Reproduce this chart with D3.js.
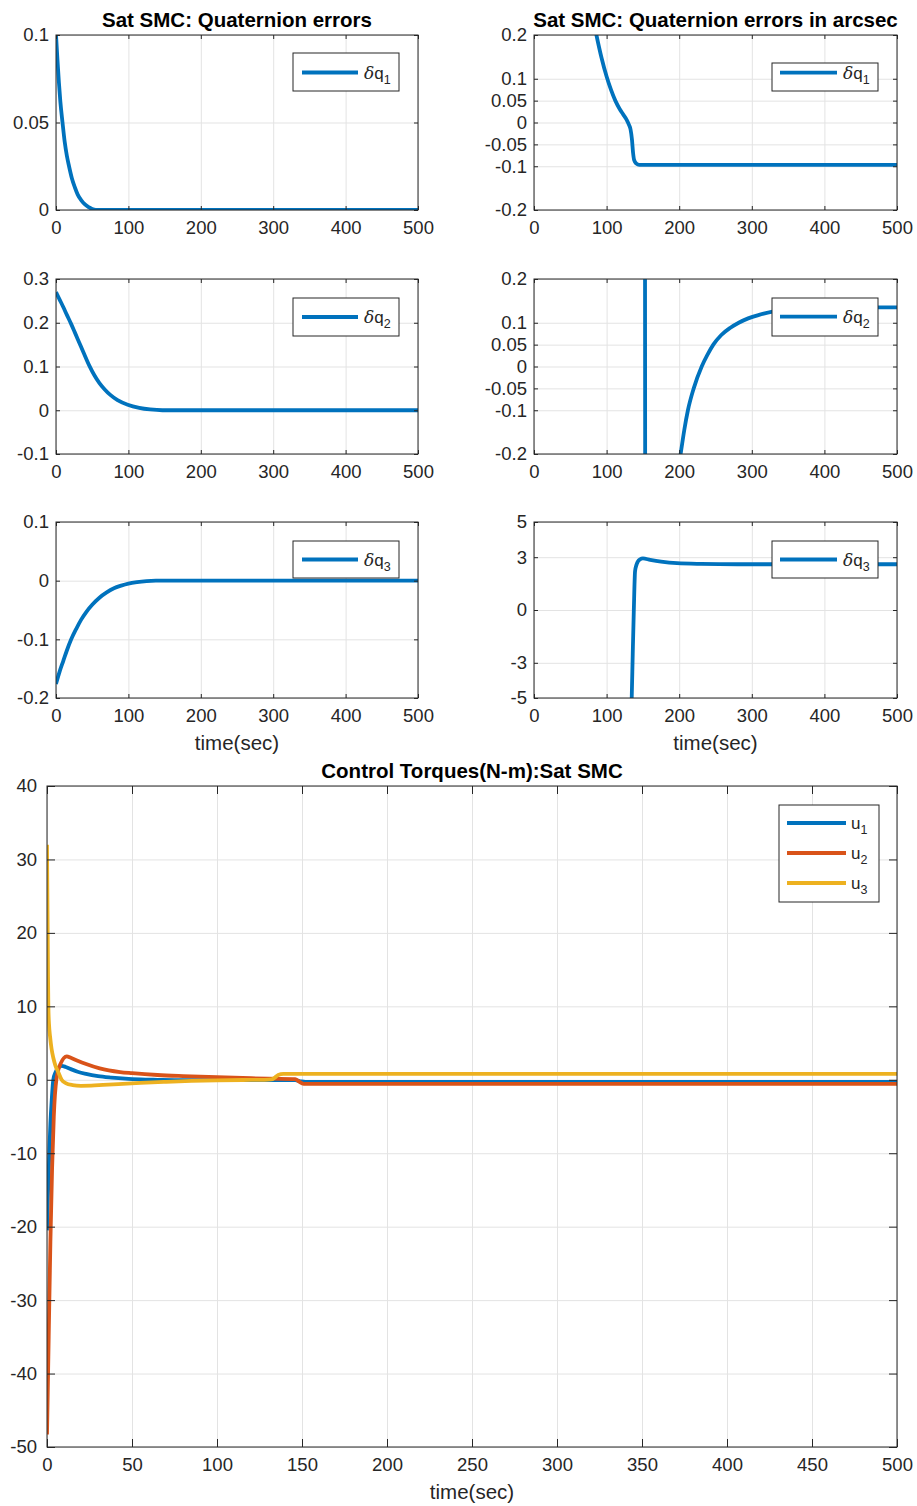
<!DOCTYPE html>
<html>
<head>
<meta charset="utf-8">
<script src="https://cdn.jsdelivr.net/npm/d3@7"></script>
<style>
  body { margin: 0; background: #fff; }
  svg { display: block; font-family: Helvetica, "Liberation Sans", Arial, sans-serif; }
</style>
</head>
<body>
<svg id="chart" width="917" height="1506"></svg>
<script>
// ---- data ----
// quaternion errors (left column)
const q1Time = [0, 2, 4, 6, 9, 12, 15, 18, 22, 26, 30, 35, 40, 45, 50, 55, 500];
const q1Err  = [0.1, 0.086, 0.073, 0.062, 0.05, 0.039, 0.031, 0.025, 0.018, 0.013, 0.0088, 0.0055, 0.0032, 0.0016, 0.0006, 0.0001, 0];

const q2Time = [0, 5, 10, 15, 20.7, 26, 32, 38, 46, 53, 60, 67, 75, 85, 99, 115, 130, 147, 500];
const q2Err  = [0.27, 0.253, 0.236, 0.218, 0.198, 0.178, 0.155, 0.132, 0.102, 0.08, 0.062, 0.048, 0.035, 0.023, 0.0126, 0.0055, 0.0018, 0, 0];

const q3Time = [0, 5, 10, 15, 21, 28, 35, 42, 50, 60, 70, 80, 90, 100, 112, 125, 138, 500];
const q3Err  = [-0.176, -0.155, -0.137, -0.119, -0.1, -0.082, -0.066, -0.053, -0.041, -0.029, -0.02, -0.013, -0.0085, -0.005, -0.0025, -0.0008, 0, 0];

// quaternion errors in arcsec (right column)
const q1ArcTime = [80, 86, 93, 100, 106, 112, 118, 123, 128, 131, 133, 135, 136.5, 138, 141, 145, 150, 500];
const q1Arc     = [0.25, 0.2, 0.148, 0.105, 0.075, 0.05, 0.031, 0.018, 0.005, -0.006, -0.016, -0.04, -0.07, -0.086, -0.094, -0.097, -0.097, -0.097];

const q2ArcTime = [140, 150, 152.8, 153.2, 154, 165, 180, 190, 196, 202, 207, 212, 220, 231, 239, 247, 258, 270, 282, 295, 310, 330, 355, 390, 430, 500];
const q2Arc     = [3, 1.5, 0.5, -0.5, -3, -1.2, -0.55, -0.36, -0.27, -0.2, -0.145, -0.1, -0.05, 0, 0.027, 0.05, 0.072, 0.088, 0.1, 0.11, 0.118, 0.126, 0.131, 0.134, 0.135, 0.135];

const q3ArcTime = [128, 134.6, 136, 137.5, 139.2, 141, 143, 146, 150, 160, 175, 197, 230, 280, 500];
const q3Arc     = [-10, -5, -2.5, 0, 2.2, 2.55, 2.75, 2.88, 2.93, 2.85, 2.75, 2.66, 2.62, 2.6, 2.6];

// control torques
const u1Time = [0, 0.5, 1, 1.5, 2, 2.8, 3.7, 5, 6.5, 8.6, 11, 14, 18, 23, 30, 38, 46, 55, 65, 80, 100, 120, 140, 146, 149, 152, 500];
const u1     = [-20.5, -16, -12.5, -9, -6, -2.7, 0, 1.0, 1.6, 1.9, 1.75, 1.45, 1.1, 0.8, 0.5, 0.3, 0.15, 0.05, 0, -0.05, -0.05, -0.05, -0.05, -0.05, -0.2, -0.3, -0.3];

const u2Time = [0, 1, 2, 3, 4, 5.5, 8, 11.6, 14, 18, 23, 31, 43, 50, 65, 80, 100, 115, 130, 146, 148, 151, 500];
const u2     = [-48.3, -35, -22, -12, -5, 0, 2.2, 3.2, 3.0, 2.6, 2.15, 1.55, 1.05, 0.9, 0.65, 0.5, 0.35, 0.25, 0.15, 0.1, -0.2, -0.55, -0.55];

const u3Time = [0, 0.2, 0.4, 0.6, 0.8, 1.2, 1.8, 2.7, 3.7, 5, 6.7, 8.6, 11, 15, 20, 26, 33, 42, 55, 70, 85, 100, 115, 128, 132, 134, 136, 139, 500];
const u3     = [32, 26, 20, 14, 10, 7.5, 5.9, 4.2, 3.0, 1.9, 1.0, 0, -0.45, -0.72, -0.82, -0.8, -0.7, -0.58, -0.42, -0.28, -0.16, -0.08, -0.03, 0, 0.05, 0.3, 0.65, 0.8, 0.8];

// tick labels
const timeTicks = [0, 100, 200, 300, 400, 500];
const timeTicksFine = [0, 50, 100, 150, 200, 250, 300, 350, 400, 450, 500];
const q1Ticks = [0, 0.05, 0.1];
const q2Ticks = [-0.1, 0, 0.1, 0.2, 0.3];
const q3Ticks = [-0.2, -0.1, 0, 0.1];
const arcTicks = [-0.2, -0.1, -0.05, 0, 0.05, 0.1, 0.2];
const arc3Ticks = [-5, -3, 0, 3, 5];
const torqueTicks = [-50, -40, -30, -20, -10, 0, 10, 20, 30, 40];

// MATLAB default colours
const BLUE = '#0072BD', ORANGE = '#D95319', YELLOW = '#EDB120';
const AXIS = '#262626', GRID = '#e3e3e3';

const svg = d3.select('#chart');
let clipId = 0;

function drawPanel(cfg) {
    const x = d3.scaleLinear().domain([0, 500]).range([cfg.left, cfg.right]);
    const y = d3.scaleLinear().domain(cfg.yDomain).range([cfg.bottom, cfg.top]);
    const w = cfg.right - cfg.left, h = cfg.bottom - cfg.top;
    const tickLen = cfg.tickLen;
    const g = svg.append('g');

    // grid
    g.append('g')
        .attr('transform', `translate(0,${cfg.bottom})`)
        .call(d3.axisBottom(x).tickValues(cfg.xTicks).tickSize(-h).tickFormat(''))
        .call(s => s.select('.domain').remove())
        .selectAll('line').attr('stroke', GRID);
    g.append('g')
        .attr('transform', `translate(${cfg.left},0)`)
        .call(d3.axisLeft(y).tickValues(cfg.yTicks).tickSize(-w).tickFormat(''))
        .call(s => s.select('.domain').remove())
        .selectAll('line').attr('stroke', GRID);

    // data lines
    const id = 'clip' + (clipId++);
    g.append('clipPath').attr('id', id)
        .append('rect').attr('x', cfg.left).attr('y', cfg.top).attr('width', w).attr('height', h);
    const line = d3.line().x(d => x(d[0])).y(d => y(d[1])).curve(d3.curveMonotoneX);
    const lines = g.append('g').attr('clip-path', `url(#${id})`);
    cfg.series.forEach(s => {
        lines.append('path')
            .datum(d3.zip(s.t, s.v))
            .attr('d', line)
            .attr('fill', 'none')
            .attr('stroke', s.color)
            .attr('stroke-width', 3.8)
            .attr('stroke-linejoin', 'round');
    });

    // box
    g.append('rect')
        .attr('x', cfg.left).attr('y', cfg.top).attr('width', w).attr('height', h)
        .attr('fill', 'none').attr('stroke', AXIS).attr('stroke-width', 1);

    // axes with inward ticks on every side
    const fmt = d => (d < 0 ? '-' : '') + Math.abs(d);
    const styleAxis = s => {
        s.select('.domain').remove();
        s.selectAll('line').attr('stroke', AXIS);
        s.selectAll('text').attr('fill', AXIS).style('font-size', '18.5px');
    };
    g.append('g')
        .attr('transform', `translate(0,${cfg.bottom})`)
        .call(d3.axisBottom(x).tickValues(cfg.xTicks).tickSizeInner(-tickLen).tickSizeOuter(0).tickPadding(11).tickFormat(fmt))
        .call(styleAxis);
    g.append('g')
        .attr('transform', `translate(${cfg.left},0)`)
        .call(d3.axisLeft(y).tickValues(cfg.yTicks).tickSizeInner(-tickLen).tickSizeOuter(0).tickPadding(cfg.yPad).tickFormat(fmt))
        .call(styleAxis);
    g.append('g')
        .attr('transform', `translate(0,${cfg.top})`)
        .call(d3.axisTop(x).tickValues(cfg.xTicks).tickSizeInner(-tickLen).tickSizeOuter(0).tickFormat(''))
        .call(styleAxis);
    g.append('g')
        .attr('transform', `translate(${cfg.right},0)`)
        .call(d3.axisRight(y).tickValues(cfg.yTicks).tickSizeInner(-tickLen).tickSizeOuter(0).tickFormat(''))
        .call(styleAxis);

    // title and x label
    if (cfg.title) {
        g.append('text')
            .attr('x', (cfg.left + cfg.right) / 2).attr('y', cfg.top - 8)
            .attr('text-anchor', 'middle')
            .style('font-size', '20.5px').style('font-weight', 'bold')
            .attr('fill', '#000')
            .text(cfg.title);
    }
    if (cfg.xlabel) {
        g.append('text')
            .attr('x', (cfg.left + cfg.right) / 2).attr('y', cfg.bottom + 52)
            .attr('text-anchor', 'middle')
            .style('font-size', '20.5px')
            .attr('fill', AXIS)
            .text(cfg.xlabel);
    }

    // legend
    const lg = cfg.legend;
    const leg = g.append('g').attr('transform', `translate(${lg.x},${lg.y})`);
    leg.append('rect')
        .attr('width', lg.w).attr('height', lg.h)
        .attr('fill', '#fff').attr('stroke', AXIS).attr('stroke-width', 1);
    lg.items.forEach((it, i) => {
        const ry = lg.rows[i];
        leg.append('line')
            .attr('x1', lg.lx1).attr('x2', lg.lx2).attr('y1', ry).attr('y2', ry)
            .attr('stroke', it.color).attr('stroke-width', 3.8);
        const t = leg.append('text')
            .attr('x', lg.tx).attr('y', ry + 6)
            .style('font-size', '17px').attr('fill', AXIS);
        if (it.delta) t.append('tspan').style('font-style', 'italic').style('font-family', '"DejaVu Serif", serif').text('δ');
        t.append('tspan').text(it.base);
        t.append('tspan').attr('dy', 5).style('font-size', '12.5px').text(it.sub);
    });
}

const single = (color, sub) => [{ color, delta: true, base: 'q', sub }];

// left column
drawPanel({
    left: 56, right: 418, top: 35, bottom: 210, tickLen: 4, yPad: 7,
    yDomain: [0, 0.1], yTicks: q1Ticks, xTicks: timeTicks,
    title: 'Sat SMC: Quaternion errors',
    series: [{ t: q1Time, v: q1Err, color: BLUE }],
    legend: { x: 293, y: 53, w: 106, h: 38, rows: [19.5], lx1: 9, lx2: 65, tx: 71, items: single(BLUE, '1') }
});
drawPanel({
    left: 56, right: 418, top: 279, bottom: 454, tickLen: 4, yPad: 7,
    yDomain: [-0.1, 0.3], yTicks: q2Ticks, xTicks: timeTicks,
    series: [{ t: q2Time, v: q2Err, color: BLUE }],
    legend: { x: 293, y: 298, w: 106, h: 38, rows: [19], lx1: 9, lx2: 65, tx: 71, items: single(BLUE, '2') }
});
drawPanel({
    left: 56, right: 418, top: 522, bottom: 698, tickLen: 4, yPad: 7,
    yDomain: [-0.2, 0.1], yTicks: q3Ticks, xTicks: timeTicks,
    xlabel: 'time(sec)',
    series: [{ t: q3Time, v: q3Err, color: BLUE }],
    legend: { x: 293, y: 541, w: 106, h: 37, rows: [18.5], lx1: 9, lx2: 65, tx: 71, items: single(BLUE, '3') }
});

// right column
drawPanel({
    left: 534, right: 897, top: 35, bottom: 210, tickLen: 4, yPad: 7,
    yDomain: [-0.2, 0.2], yTicks: arcTicks, xTicks: timeTicks,
    title: 'Sat SMC: Quaternion errors in arcsec',
    series: [{ t: q1ArcTime, v: q1Arc, color: BLUE }],
    legend: { x: 772, y: 63, w: 106, h: 28, rows: [9.7], lx1: 8, lx2: 65, tx: 71, items: single(BLUE, '1') }
});
drawPanel({
    left: 534, right: 897, top: 279, bottom: 454, tickLen: 4, yPad: 7,
    yDomain: [-0.2, 0.2], yTicks: arcTicks, xTicks: timeTicks,
    series: [{ t: q2ArcTime, v: q2Arc, color: BLUE }],
    legend: { x: 772, y: 298, w: 106, h: 38, rows: [18.7], lx1: 8, lx2: 65, tx: 71, items: single(BLUE, '2') }
});
drawPanel({
    left: 534, right: 897, top: 522, bottom: 698, tickLen: 4, yPad: 7,
    yDomain: [-5, 5], yTicks: arc3Ticks, xTicks: timeTicks,
    xlabel: 'time(sec)',
    series: [{ t: q3ArcTime, v: q3Arc, color: BLUE }],
    legend: { x: 772, y: 541, w: 106, h: 37, rows: [18.5], lx1: 8, lx2: 65, tx: 71, items: single(BLUE, '3') }
});

// control torques
drawPanel({
    left: 47, right: 897, top: 786, bottom: 1447, tickLen: 8, yPad: 10,
    yDomain: [-50, 40], yTicks: torqueTicks, xTicks: timeTicksFine,
    title: 'Control Torques(N-m):Sat SMC',
    xlabel: 'time(sec)',
    series: [
        { t: u1Time, v: u1, color: BLUE },
        { t: u2Time, v: u2, color: ORANGE },
        { t: u3Time, v: u3, color: YELLOW }
    ],
    legend: {
        x: 779, y: 805, w: 100, h: 97, rows: [18, 48, 78], lx1: 8, lx2: 67, tx: 72,
        items: [
            { color: BLUE, base: 'u', sub: '1' },
            { color: ORANGE, base: 'u', sub: '2' },
            { color: YELLOW, base: 'u', sub: '3' }
        ]
    }
});
</script>
</body>
</html>
